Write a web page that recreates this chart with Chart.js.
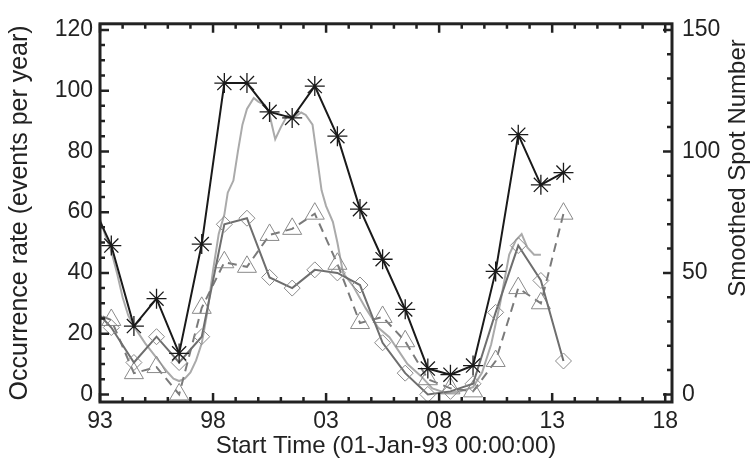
<!DOCTYPE html>
<html>
<head>
<meta charset="utf-8">
<script src="https://cdn.jsdelivr.net/npm/chart.js@4"></script>
<style>
  html, body { margin: 0; padding: 0; background: #fff; }
  #wrap { width: 752px; height: 472px; }
</style>
</head>
<body>
<div id="wrap"><canvas id="rateChart" width="752" height="472"></canvas></div>
<script>
// yearly bins, plotted at mid-year (the 1992 bin falls left of the axis and is clipped)
const binYears = [1992.5, 1993.5, 1994.5, 1995.5, 1996.5, 1997.5, 1998.5, 1999.5, 2000.5, 2001.5, 2002.5,
                  2003.5, 2004.5, 2005.5, 2006.5, 2007.5, 2008.5, 2009.5, 2010.5, 2011.5, 2012.5, 2013.5];

// occurrence rates (events per year)
const starRate     = [65, 49, 22.5, 31.5, 13.5, 49.5, 102.5, 102.5, 93, 91, 101.5,
                      85, 61, 44.5, 28, 8.5, 6.5, 9.5, 40.5, 85.5, 69, 73];
const diamondRate  = [30, 22, 10.5, 19, 10.5, 19, 56, 58, 38.5, 35, 41,
                      40, 36, 17, 7, 0, 1, 3.5, 27, 49, 37.5, 11];
const triangleRate = [27.5, 24.5, 7, 9, 0, 28.5, 43.5, 42, 52.5, 54.5, 59.5,
                      43, 23.5, 25.5, 17.5, 5, 2, 1, 11, 35, 30, 59.5];

// smoothed sunspot number (right axis)
const ssnYears  = [1993.0, 1993.25, 1993.5, 1993.75, 1994.0, 1994.25, 1994.5, 1994.75, 1995.0, 1995.25,
                   1995.5, 1995.75, 1996.0, 1996.25, 1996.5, 1996.75, 1997.0, 1997.25, 1997.5, 1997.75,
                   1998.0, 1998.25, 1998.5, 1998.65, 1998.9, 1999.1, 1999.3, 1999.5, 1999.8, 2000.0,
                   2000.3, 2000.5, 2000.75, 2001.0, 2001.3, 2001.6, 2001.9, 2002.1, 2002.4, 2002.6,
                   2002.8, 2003.0, 2003.3, 2003.5, 2003.75, 2004.2, 2004.75, 2005.3, 2005.8, 2006.2,
                   2006.6, 2007.2, 2007.7, 2008.3, 2008.9, 2009.5, 2009.9, 2010.3, 2010.7, 2011.1,
                   2011.4, 2011.65, 2011.9, 2012.2, 2012.5];
const ssnValues = [72, 65, 59, 50, 40, 32.5, 28, 24.5, 21, 18,
                   15, 12, 9, 6.5, 5.5, 6.5, 9, 14, 21, 34,
                   51, 66, 74, 83, 88, 100, 111, 117.5, 122, 120.5,
                   119, 115, 105, 110, 115, 114, 116, 115, 111, 97.5,
                   84, 77.5, 71, 62.5, 50, 44.5, 35.5, 27.5, 23.5, 18,
                   12.5, 7.5, 2.5, 0.6, 1.2, 3, 9, 20.5, 37.5, 57.5,
                   63.5, 66, 60.5, 57.5, 57.5];

const xMajor = [1993, 1998, 2003, 2008, 2013, 2018];
const yMajor = [0, 20, 40, 60, 80, 100, 120];
const y1Major = [0, 50, 100, 150];

const fam = 'Liberation Sans, Arial, Helvetica, sans-serif';
const tickFont = { family: fam, size: 23 };
const ink = '#222';
const rightTitle = 'Smoothed Spot Number';

const pairs = (xs, ys) => xs.map((v, i) => ({ x: v, y: ys[i] }));

// IDL style box with inward major/minor ticks, plus the right title (reads upward)
const boxTicks = {
    id: 'boxTicks',
    afterDatasetsDraw(chart) {
        const { ctx, chartArea: a, scales: { x, y, y1 } } = chart;
        ctx.save();
        ctx.strokeStyle = ink;
        ctx.lineWidth = 2.5;
        ctx.beginPath();
        for (let yr = 1993; yr <= 2018; yr++) {
            const px = x.getPixelForValue(yr);
            const len = (yr - 1993) % 5 === 0 ? 9 : 5;
            ctx.moveTo(px, a.bottom); ctx.lineTo(px, a.bottom - len);
            ctx.moveTo(px, a.top); ctx.lineTo(px, a.top + len);
        }
        for (let v = 0; v <= 120; v += 5) {
            const py = y.getPixelForValue(v);
            const len = v % 20 === 0 ? 9 : 5;
            ctx.moveTo(a.left, py); ctx.lineTo(a.left + len, py);
        }
        for (let v = 0; v <= 150; v += 10) {
            const py = y1.getPixelForValue(v);
            const len = v % 50 === 0 ? 9 : 5;
            ctx.moveTo(a.right, py); ctx.lineTo(a.right - len, py);
        }
        ctx.stroke();
        ctx.lineWidth = 3;
        ctx.strokeRect(a.left, a.top, a.right - a.left, a.bottom - a.top);

        ctx.translate(738, 168);
        ctx.rotate(-Math.PI / 2);
        ctx.fillStyle = ink;
        ctx.font = '24px ' + fam;
        ctx.textAlign = 'center';
        ctx.textBaseline = 'middle';
        ctx.fillText(rightTitle, 0, 0);
        ctx.restore();
    }
};

const ctx = document.getElementById('rateChart').getContext('2d');

new Chart(ctx, {
    type: 'line',
    data: {
        datasets: [
            {
                label: 'all',
                data: pairs(binYears, starRate),
                borderColor: '#1a1a1a',
                borderWidth: 2,
                pointStyle: 'star',
                pointRadius: 10,
                pointBorderWidth: 1.3,
                pointBorderColor: '#1a1a1a',
                pointBackgroundColor: 'rgba(0,0,0,0)',
                tension: 0,
                yAxisID: 'y'
            },
            {
                label: 'diamonds',
                data: pairs(binYears, diamondRate),
                borderColor: '#6e6e6e',
                borderWidth: 2,
                pointStyle: 'rectRot',
                pointRadius: 8,
                pointBorderWidth: 1,
                pointBorderColor: '#8a8a8a',
                pointBackgroundColor: 'rgba(0,0,0,0)',
                tension: 0,
                yAxisID: 'y'
            },
            {
                label: 'triangles',
                data: pairs(binYears, triangleRate),
                borderColor: '#7a7a7a',
                borderWidth: 2,
                borderDash: [9, 6],
                pointStyle: 'triangle',
                pointRadius: 11,
                pointBorderWidth: 1,
                pointBorderColor: '#8a8a8a',
                pointBackgroundColor: 'rgba(0,0,0,0)',
                tension: 0,
                yAxisID: 'y'
            },
            {
                label: 'Smoothed Spot Number',
                data: pairs(ssnYears, ssnValues),
                borderColor: '#aaaaaa',
                borderWidth: 2,
                pointRadius: 0,
                tension: 0,
                yAxisID: 'y1'
            }
        ]
    },
    options: {
        responsive: false,
        animation: false,
        devicePixelRatio: 1,
        layout: { padding: { top: 14, left: 0, right: 0, bottom: 0 } },
        plugins: {
            legend: { display: false },
            tooltip: { enabled: false }
        },
        scales: {
            x: {
                type: 'linear',
                min: 1993,
                max: 2018.3,
                afterFit: s => { s.height = 70; },
                afterBuildTicks: s => { s.ticks = xMajor.map(v => ({ value: v })); },
                grid: { display: false, drawTicks: false },
                border: { display: false },
                ticks: {
                    padding: 6,
                    color: ink,
                    font: tickFont,
                    maxRotation: 0,
                    autoSkip: false,
                    callback: v => String(v % 100).padStart(2, '0')
                },
                title: {
                    display: true,
                    text: 'Start Time (01-Jan-93 00:00:00)',
                    color: ink,
                    font: { family: fam, size: 24 },
                    padding: { top: 0, bottom: 11 }
                }
            },
            y: {
                position: 'left',
                min: -2.5,
                max: 122,
                afterFit: s => { s.width = 100; },
                afterBuildTicks: s => { s.ticks = yMajor.map(v => ({ value: v })); },
                grid: { display: false, drawTicks: false },
                border: { display: false },
                ticks: { padding: 7, color: ink, font: tickFont },
                title: {
                    display: true,
                    text: 'Occurrence rate (events per year)',
                    color: ink,
                    font: { family: fam, size: 25 },
                    padding: { top: 5, bottom: 0 }
                }
            },
            y1: {
                position: 'right',
                min: -3.125,
                max: 152.5,
                afterFit: s => { s.width = 80; },
                afterBuildTicks: s => { s.ticks = y1Major.map(v => ({ value: v })); },
                grid: { display: false, drawTicks: false },
                border: { display: false },
                ticks: { padding: 10, color: ink, font: tickFont },
                title: { display: false }
            }
        }
    },
    plugins: [boxTicks]
});
</script>
</body>
</html>
